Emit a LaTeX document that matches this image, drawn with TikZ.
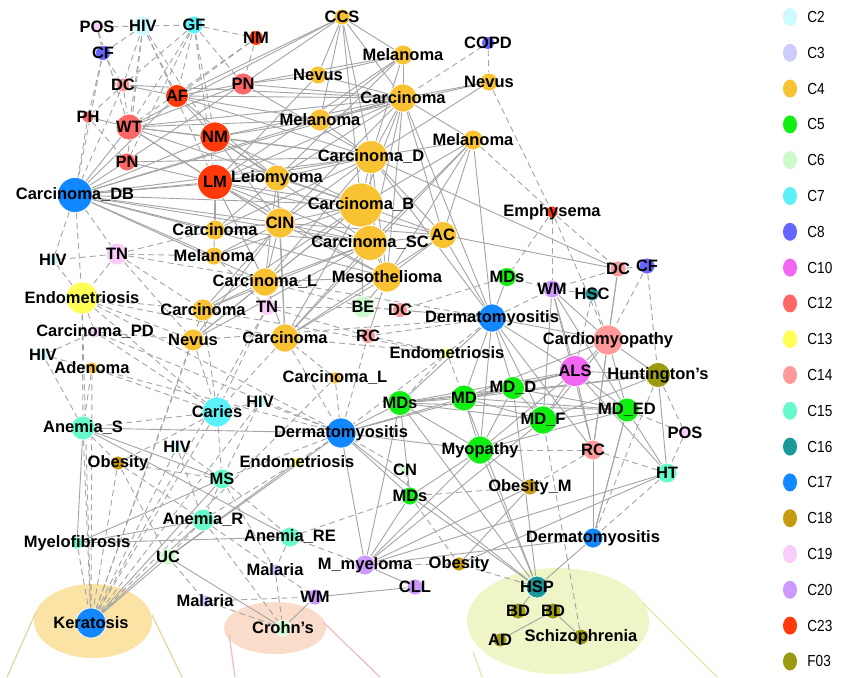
\documentclass[tikz,border=0pt]{standalone}
\usepackage{fontspec}
\setmainfont{Liberation Sans}
\newfontfamily\legfont{Liberation Sans}[FakeStretch=0.85]
\usepackage{tikz}
\usetikzlibrary{positioning,backgrounds,shapes.geometric}

\definecolor{C2}{HTML}{CCFAFF}
\definecolor{C3}{HTML}{CCCCFF}
\definecolor{C4}{HTML}{F9C233}
\definecolor{C5}{HTML}{11EE11}
\definecolor{C6}{HTML}{CCFACC}
\definecolor{C7}{HTML}{5CF0FA}
\definecolor{C8}{HTML}{6666FF}
\definecolor{C10}{HTML}{F266F2}
\definecolor{C12}{HTML}{FF6666}
\definecolor{C13}{HTML}{FFFF55}
\definecolor{C14}{HTML}{FF9999}
\definecolor{C15}{HTML}{66FACC}
\definecolor{C16}{HTML}{1A9999}
\definecolor{C17}{HTML}{1188FF}
\definecolor{C18}{HTML}{C89A10}
\definecolor{C19}{HTML}{FACCFA}
\definecolor{C20}{HTML}{CC99FF}
\definecolor{C23}{HTML}{FF3A0A}
\definecolor{F03}{HTML}{9C9A10}
\definecolor{edgegray}{HTML}{A4A4A4}
\definecolor{kerfill}{HTML}{FBE3A6}
\definecolor{crfill}{HTML}{FADCCA}
\definecolor{bdfill}{HTML}{EFF5C6}
\definecolor{kerline}{HTML}{E4D49C}
\definecolor{crline}{HTML}{EDBDBD}
\definecolor{bdline}{HTML}{E2E9A6}
\newcommand{\lbl}{\fontsize{16.5}{18}\selectfont\bfseries}

\begin{document}
\begin{tikzpicture}[x=1pt, y=-1pt,
  nd/.style={circle, inner sep=0pt, minimum size=#1, draw=white, line width=0.7pt},
  lab/.style={font=\lbl, inner sep=0pt, text=black},
  sol/.style={draw=edgegray, line width=0.9pt},
  dsh/.style={draw=edgegray, line width=0.9pt, dash pattern=on 6pt off 4pt},
  legdot/.style={ellipse, inner sep=0pt, minimum width=14, minimum height=18},
  legtxt/.style={font=\legfont\fontsize{16}{18}\selectfont, inner sep=0pt}]
\useasboundingbox (0,0) rectangle (850,677);

% top left
\node[nd=10, fill=C19, label={[lab]center:POS}] (pos1) at (97,27) {};
\node[nd=20, fill=C2, label={[lab]center:HIV}] (hiv1) at (143,26) {};
\node[nd=18, fill=C7, label={[lab]center:GF}] (gf) at (194,25) {};
\node[nd=15, fill=C23, label={[lab]center:NM}] (nm1) at (256,38) {};
\node[nd=15, fill=C8, label={[lab]center:CF}] (cf1) at (103,53) {};
\node[nd=14, fill=C14, label={[lab]center:DC}] (dc1) at (123,85) {};
\node[nd=23, fill=C23, label={[lab]center:AF}] (af) at (177,96) {};
\node[nd=22, fill=C12, label={[lab]center:PN}] (pn1) at (243,84) {};
\node[nd=12, fill=C12, label={[lab]center:PH}] (ph) at (88,117) {};
\node[nd=26, fill=C12, label={[lab]center:WT}] (wt) at (129,127) {};
\node[nd=30, fill=C23, label={[lab]center:NM}] (nm2) at (215,137) {};
\node[nd=18, fill=C12, label={[lab]center:PN}] (pn2) at (127,162) {};
\node[nd=35, fill=C23, label={[lab]center:LM}] (lm) at (215,182) {};
\node[nd=35, fill=C17, label={[lab]center:Carcinoma\_DB}] (cdb) at (75,195) {};
\node[nd=26, fill=C4, label={[lab]center:Leiomyoma}] (leio) at (277,178) {};

% carcinoma cluster
\node[nd=16, fill=C4, label={[lab]center:CCS}] (ccs) at (342,17) {};
\node[nd=20, fill=C4, label={[lab]center:Melanoma}] (mel1) at (403,55) {};
\node[nd=18, fill=C4, label={[lab]center:Nevus}] (nev1) at (318,75) {};
\node[nd=13, fill=C8, label={[lab]center:COPD}] (copd) at (488,43) {};
\node[nd=18, fill=C4, label={[lab]center:Nevus}] (nev2) at (489,82) {};
\node[nd=28, fill=C4, label={[lab]center:Carcinoma}] (carc1) at (403,98) {};
\node[nd=22, fill=C4, label={[lab]center:Melanoma}] (mel2) at (320,120) {};
\node[nd=20, fill=C4, label={[lab]center:Melanoma}] (mel3) at (473,140) {};
\node[nd=33, fill=C4, label={[lab]center:Carcinoma\_D}] (carcd) at (371,157) {};
\node[nd=44, fill=C4, label={[lab]center:Carcinoma\_B}] (carcb) at (361,205) {};
\node[nd=30, fill=C4, label={[lab]center:CIN}] (cin) at (280,223) {};
\node[nd=35, fill=C4, label={[lab]center:Carcinoma\_SC}] (carcsc) at (370,243) {};
\node[nd=27, fill=C4, label={[lab]center:AC}] (ac) at (443,235) {};
\node[nd=12, fill=C23, label={[lab]center:Emphysema}] (emph) at (552,212) {};
\node[nd=20, fill=C4, label={[lab]center:Carcinoma}] (carc2) at (215,230) {};
\node[nd=18, fill=C4, label={[lab]center:Melanoma}] (mel4) at (214,256) {};
\node[nd=28, fill=C4, label={[lab]center:Carcinoma\_L}] (carcl1) at (265,282) {};
\node[nd=30, fill=C4, label={[lab]center:Mesothelioma}] (meso) at (387,277) {};

% left column
\node[nd=22, fill=C19, label={[lab]center:TN}] (tn1) at (117,254) {};
\node[nd=12, fill=C2, label={[lab]center:HIV}] (hiv2) at (53,260) {};
\node[nd=32, fill=C13, label={[lab]center:Endometriosis}] (endo1) at (82,298) {};
\node[nd=12, fill=C19, label={[lab]center:Carcinoma\_PD}] (carcpd) at (95,332) {};
\node[nd=12, fill=C2, label={[lab]center:HIV}] (hiv3) at (43,355) {};
\node[nd=12, fill=C4, label={[lab]center:Adenoma}] (aden) at (92,368) {};
\node[nd=22, fill=C4, label={[lab]center:Carcinoma}] (carc3) at (203,310) {};
\node[nd=17, fill=C19, label={[lab]center:TN}] (tn2) at (267,307) {};
\node[nd=22, fill=C4, label={[lab]center:Nevus}] (nev3) at (193,340) {};
\node[nd=28, fill=C4, label={[lab]center:Carcinoma}] (carc4) at (285,338) {};
\node[nd=22, fill=C6, label={[lab]center:BE}] (be) at (363,307) {};
\node[nd=15, fill=C14, label={[lab]center:DC}] (dc2) at (400,310) {};
\node[nd=15, fill=C14, label={[lab]center:RC}] (rc1) at (368,336) {};

% right cluster
\node[nd=28, fill=C17, label={[lab]center:Dermatomyositis}] (derm1) at (492,318) {};
\node[nd=19, fill=C5, label={[lab]center:MDs}] (mds1) at (507,277) {};
\node[nd=18, fill=C20, label={[lab]center:WM}] (wm1) at (552,289) {};
\node[nd=14, fill=C16, label={[lab]center:HSC}] (hsc) at (592,294) {};
\node[nd=16, fill=C14, label={[lab]center:DC}] (dc3) at (618,269) {};
\node[nd=16, fill=C8, label={[lab]center:CF}] (cf2) at (647,266) {};
\node[nd=30, fill=C14, label={[lab]center:Cardiomyopathy}] (cardio) at (608,340) {};
\node[nd=31, fill=C10, label={[lab]center:ALS}] (als) at (575,371) {};
\node[nd=25, fill=F03, label={[lab]center:Huntington's}] (hunt) at (658,375) {};
\node[nd=10, fill=C13, label={[lab]center:Endometriosis}] (endo2) at (447,353) {};
\node[nd=12, fill=C4, label={[lab]center:Carcinoma\_L}] (carcl2) at (335,378) {};
\node[nd=30, fill=C7, label={[lab]center:Caries}] (caries) at (217,412) {};
\node[nd=12, fill=C2, label={[lab]center:HIV}] (hiv4) at (260,402) {};
\node[nd=24, fill=C15, label={[lab]center:Anemia\_S}] (anems) at (83,428) {};
\node[nd=12, fill=C2, label={[lab]center:HIV}] (hiv5) at (177,447) {};
\node[nd=30, fill=C17, label={[lab]center:Dermatomyositis}] (derm2) at (341,433) {};
\node[nd=25, fill=C5, label={[lab]center:MDs}] (mds2) at (400,403) {};
\node[nd=26, fill=C5, label={[lab]center:MD}] (md) at (464,398) {};
\node[nd=23, fill=C5, label={[lab]center:MD\_D}] (mdd) at (513,388) {};
\node[nd=28, fill=C5, label={[lab]center:MD\_F}] (mdf) at (543,420) {};
\node[nd=24, fill=C5, label={[lab]center:MD\_ED}] (mded) at (627,410) {};
\node[nd=10, fill=C19, label={[lab]center:POS}] (pos2) at (685,433) {};
\node[nd=28, fill=C5, label={[lab]center:Myopathy}] (myo) at (480,450) {};
\node[nd=20, fill=C14, label={[lab]center:RC}] (rc2) at (593,450) {};
\node[nd=20, fill=C15, label={[lab]center:HT}] (ht) at (667,473) {};

% bottom
\node[nd=14, fill=C18, label={[lab]center:Obesity}] (obes1) at (118,463) {};
\node[nd=10, fill=C13, label={[lab]center:Endometriosis}] (endo3) at (297,462) {};
\node[nd=20, fill=C15, label={[lab]center:MS}] (ms) at (222,479) {};
\node[nd=10, fill=C6, label={[lab]center:CN}] (cn) at (405,470) {};
\node[nd=18, fill=C5, label={[lab]center:MDs}] (mds3) at (410,496) {};
\node[nd=16, fill=C18, label={[lab]center:Obesity\_M}] (obesm) at (530,487) {};
\node[nd=22, fill=C15, label={[lab]center:Anemia\_R}] (anemr) at (203,520) {};
\node[nd=12, fill=C15, label={[lab]center:Myelofibrosis}] (myelo) at (77,543) {};
\node[nd=20, fill=C15, label={[lab]center:Anemia\_RE}] (anemre) at (290,537) {};
\node[nd=16, fill=C6, label={[lab]center:UC}] (uc) at (168,557) {};
\node[nd=20, fill=C17, label={[lab]center:Dermatomyositis}] (derm3) at (593,538) {};
\node[nd=12, fill=C3, label={[lab]center:Malaria}] (mal1) at (275,570) {};
\node[nd=20, fill=C20, label={[lab]center:M\_myeloma}] (mmye) at (365,565) {};
\node[nd=14, fill=C18, label={[lab]center:Obesity}] (obes2) at (459,564) {};
\node[nd=16, fill=C20, label={[lab]center:CLL}] (cll) at (415,587) {};
\node[nd=22, fill=C16, label={[lab]center:HSP}] (hsp) at (537,587) {};
\node[nd=12, fill=C3, label={[lab]center:Malaria}] (mal2) at (205,601) {};
\node[nd=16, fill=C20, label={[lab]center:WM}] (wm2) at (315,597) {};
\node[nd=16, fill=F03, label={[lab]center:BD}] (bd1) at (518,611) {};
\node[nd=16, fill=F03, label={[lab]center:BD}] (bd2) at (553,611) {};
\node[nd=14, fill=F03, label={[lab]center:AD}] (ad) at (500,640) {};
\node[nd=16, fill=F03, label={[lab]center:Schizophrenia}] (schiz) at (581,637) {};
\node[nd=30, fill=C17, label={[lab]center:Keratosis}] (kera) at (91,623) {};
\node[nd=16, fill=C6, label={[lab]center:Crohn's}] (crohn) at (283,628) {};

% legend
\foreach \c [count=\i from 0] in {C2,C3,C4,C5,C6,C7,C8,C10,C12,C13,C14,C15,C16,C17,C18,C19,C20,C23,F03} {
  \node[legdot, fill=\c] (dot\c) at (790,{17+35.8*\i}) {};
  \node[legtxt, right=10pt of dot\c] {\c};
}

\begin{pgfonlayer}{background}
\fill[white] (0,0) rectangle (850,677);
% zoom blobs
\node[ellipse, fill=kerfill, minimum width=118, minimum height=74] (kerblob) at (93,621) {};
\node[ellipse, fill=crfill, minimum width=102, minimum height=52] (crblob) at (275,628) {};
\node[ellipse, fill=bdfill, minimum width=182, minimum height=106] (bdblob) at (558,621) {};
\draw[kerline, line width=1.2pt] (36,612) -- (7,677) (152,615) -- (182,677);
\draw[crline, line width=1.2pt] (229,634) -- (235,677) (323,622) -- (380,677);
\draw[bdline, line width=1.2pt] (473,652) -- (482,677) (643,603) -- (717,677);

% dashed links
\foreach \a/\b in {pos1/hiv1, hiv1/gf, pos1/cf1, hiv1/cf1, hiv1/dc1, hiv1/af, hiv1/wt, hiv1/pn2,
  hiv1/nm2, hiv1/lm, gf/nm1, gf/af, gf/pn1, gf/wt, gf/nm2, gf/dc1, gf/lm, gf/pn2, nm1/af, nm1/pn1,
  nm1/wt, cf1/ph, cf1/cdb, cf1/dc1, dc1/ph, dc1/wt, dc1/cdb, ph/cdb, ph/pn2, pos1/wt,
  cdb/hiv2, cdb/tn1, cdb/endo1, tn1/endo1, tn1/carc2, tn1/carc3, tn1/hiv2, tn1/mel4, tn1/nev3,
  endo1/hiv2, endo1/carcpd, endo1/nev3, endo1/carc3, endo1/caries, endo1/carc4, carcpd/hiv3,
  carcpd/nev3, aden/hiv3, aden/anems, aden/caries, carcpd/caries, hiv3/anems, endo1/anems,
  nev3/caries, carc3/caries, tn2/caries, carc4/caries, caries/kera, hiv4/kera, hiv5/kera,
  obes1/kera, anems/kera, caries/hiv4, caries/anems, caries/obes1, nev3/kera, carc3/kera,
  endo1/kera, carcl2/kera, tn2/kera, hiv4/ms, aden/kera, caries/ms,
  carcl2/derm2, carc4/derm2, endo2/derm2, rc1/derm2, dc2/derm1, rc1/derm1, endo2/derm1,
  endo2/rc1, carcl2/carc4, derm2/hiv4, derm2/ms, derm2/endo3, endo3/anemr, ms/anemr, anemr/mal1,
  mal1/crohn, mal2/crohn, uc/mal2, mal1/wm2, anemr/crohn,
  emph/dc3, emph/mds1, emph/wm1, emph/cardio, dc3/cf2, cf2/hunt, cf2/cardio, hsc/cardio,
  hsc/wm1, hsc/als, copd/nev2, copd/carc1, nev2/emph, mel3/emph,
  pos2/mded, pos2/ht, pos2/hunt, ht/rc2, ht/derm3, rc2/myo, rc2/obesm, obesm/mds3, obes2/hsp,
  schiz/mdf, rc2/derm3, hunt/derm3,
  endo1/derm2, tn1/derm1, carcpd/derm2, aden/derm2, nev3/derm1, carc3/endo2, tn2/be, tn2/rc1,
  be/dc2, be/derm1, dc2/mds1, carc4/endo2, carcl1/be, mel4/tn2, endo2/md, endo2/mds2,
  derm1/wm1, mds1/wm1, wm1/dc3,
  anems/obes1, obes1/ms, obes1/anemr, hiv5/ms, hiv5/anemr, ms/anemre, ms/mal1, anemr/uc,
  anemre/mal1, anemre/mmye, mal2/wm2, mmye/obes2, mds3/cn, cn/derm2, mds3/anemre, mds3/obes2,
  myelo/kera, obes1/uc}
  \draw[dsh] (\a) -- (\b);

% solid links
\foreach \a/\b in {cdb/wt, cdb/af, cdb/nm2, cdb/pn1, cdb/lm, cdb/leio, cdb/carcd, cdb/carc1,
  cdb/mel2, cdb/cin, cdb/carcb, cdb/carcsc, cdb/carc2, cdb/mel4, cdb/carcl1, cdb/meso,
  wt/pn1, wt/carc1, wt/mel2, wt/lm, wt/carcd, wt/cin, wt/nm2, wt/carcb,
  af/pn1, af/carc1, af/mel2, af/carcd, af/leio, af/nm2,
  pn1/nev1, pn1/carc1, pn1/mel1, pn1/ccs, pn1/carcd,
  nm2/carcd, nm2/carcb, nm2/carc1, nm2/mel2, nm2/leio, nm2/cin, nm2/carcsc,
  lm/leio, lm/carcd, lm/carcb, lm/carcsc, lm/cin, lm/carc2, lm/mel4, lm/carcl1, lm/carc1,
  lm/nev1, lm/mel1, lm/ac, lm/meso, dc1/carc1, dc1/af, pn2/lm, pn2/carcd, ph/wt,
  ccs/nev1, ccs/mel2, ccs/carc1, ccs/carcd, ccs/carcb, ccs/wt, ccs/af, ccs/mel1,
  carc1/nev2, carc1/mel3, carc1/carcd, carc1/carcb, carc1/carcsc, carc1/ac, carc1/meso,
  carc1/cin, carc1/leio, carc1/mel2, carc1/nev1, carc1/mel1, carc1/derm1,
  mel1/nev1, mel1/mel2, mel1/carcd, mel1/leio, nev2/mel2, nev2/carcd,
  mel3/carcd, mel3/carcb, mel3/carcsc, mel3/ac, mel3/meso, mel3/derm1, mel3/carc4,
  carcd/carcb, carcd/carcsc, carcd/ac, carcd/meso, carcd/cin, carcd/leio, carcd/carcl1,
  carcd/carc2, carcd/derm1, carcd/dc3, carcd/mel2,
  carcb/carcsc, carcb/ac, carcb/meso, carcb/cin, carcb/carcl1, carcb/carc4, carcb/carc3,
  carcb/nev3, carcb/be, carcb/leio, carcb/mel4,
  carcsc/ac, carcsc/meso, carcsc/cin, carcsc/carcl1, carcsc/carc4, carcsc/carc3, carcsc/nev3,
  carcsc/carc2, ac/meso, ac/dc3, ac/carc4, ac/derm1, ac/cin,
  meso/carc4, meso/carcl1, meso/be, meso/rc1, meso/cin,
  cin/carcl1, cin/carc4, cin/carc3, cin/nev3, cin/carc2, cin/mel4, cin/leio,
  leio/carcl1, leio/carc2, leio/carc4, carcl1/carc4, carcl1/nev3, carcl1/carc3,
  derm1/mds1, derm1/cardio, derm1/als, derm1/md, derm1/mdd, derm1/mdf, derm1/myo, derm1/mds2,
  derm1/rc2, wm1/cardio, wm1/als, wm1/mdf, wm1/mded, wm1/rc2, dc3/cardio, dc3/rc2,
  als/mdd, als/md, als/mdf, als/mded, als/hunt, als/cardio, als/rc2, als/myo, als/mds2,
  als/derm2, als/ht, cardio/mded, cardio/hunt, cardio/mdf, cardio/rc2, cardio/md,
  hunt/mdf, hunt/md, hunt/mds2, hunt/ht,
  mded/mdf, mded/md, mded/mdd, mded/mds2, mded/ht, mded/myo, mded/derm3,
  mdf/md, mdf/mdd, mdf/mds2, mdf/myo, mdf/mmye, md/mdd, md/mds2, md/myo, md/derm2, md/hsp,
  mdd/mds2, mdd/myo, mds2/derm2, mds2/myo, mds2/mmye, mds2/hsp, mds2/mds3,
  myo/derm2, myo/mds3, myo/hsp, myo/mmye, myo/obesm,
  derm2/mds3, derm2/hsp, derm2/mmye, derm2/uc, derm2/anems, mds3/hsp, mds3/mmye,
  mmye/cll, mmye/obesm, mmye/ht, mmye/derm3, hsp/derm3, hsp/bd1, hsp/mdd,
  derm3/mded, derm3/rc2, obes2/obesm, obes2/ht, bd2/ad, bd2/schiz,
  cll/wm2, wm2/crohn, uc/crohn, uc/kera, uc/endo3,
  anems/anemre, anems/ms, anems/myelo, myelo/anemre, myelo/ms, myelo/anemr,
  anemr/kera, ms/kera}
  \draw[sol] (\a) -- (\b);
\end{pgfonlayer}
\end{tikzpicture}
\end{document}
